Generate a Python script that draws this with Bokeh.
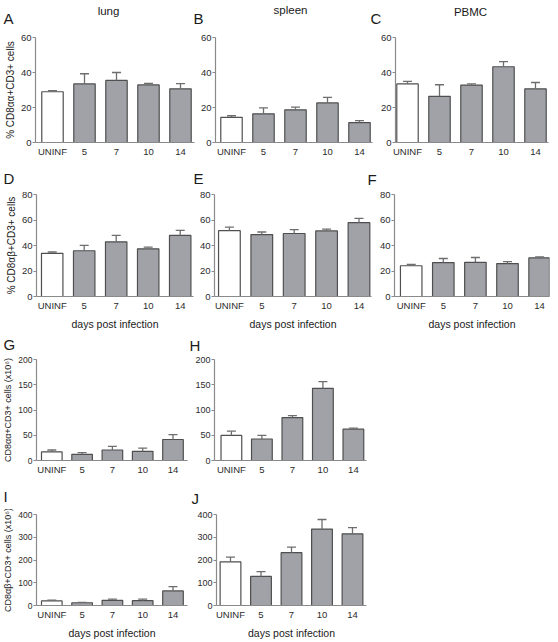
from bokeh.plotting import figure
from bokeh.models import Range1d, FixedTicker, ColumnDataSource, Whisker, TeeHead
from bokeh.core.properties import value
from bokeh.layouts import column, row
from bokeh.embed import file_html
from bokeh.resources import INLINE

# ---------------- data ----------------
categories = ["UNINF", "5", "7", "10", "14"]

lung_aa_pct = [29.0, 33.5, 35.5, 32.9, 30.7]
lung_aa_pct_sem = [0.7, 5.8, 4.5, 0.9, 2.9]
spleen_aa_pct = [14.4, 16.4, 18.7, 22.6, 11.4]
spleen_aa_pct_sem = [0.9, 3.4, 1.5, 3.2, 1.1]
pbmc_aa_pct = [33.5, 26.4, 32.8, 43.3, 30.7]
pbmc_aa_pct_sem = [1.4, 6.6, 0.7, 2.9, 3.6]

lung_ab_pct = [33.9, 35.9, 42.9, 37.4, 47.9]
lung_ab_pct_sem = [1.0, 4.2, 5.0, 1.3, 4.0]
spleen_ab_pct = [51.6, 48.6, 49.4, 51.4, 57.9]
spleen_ab_pct_sem = [2.8, 2.0, 3.0, 1.5, 3.4]
pbmc_ab_pct = [24.1, 26.6, 26.8, 25.8, 30.3]
pbmc_ab_pct_sem = [1.0, 3.2, 3.8, 1.5, 0.8]

lung_aa_count = [16.9, 12.3, 20.8, 18.2, 41.6]
lung_aa_count_sem = [3.9, 3.3, 7.1, 6.5, 9.7]
spleen_aa_count = [49.7, 42.6, 85.0, 143.0, 62.0]
spleen_aa_count_sem = [8.3, 7.1, 4.0, 13.0, 2.0]

lung_ab_count = [20.0, 12.0, 22.7, 21.3, 64.0]
lung_ab_count_sem = [4.0, 1.3, 5.3, 6.7, 18.7]
spleen_ab_count = [192.0, 128.0, 232.0, 336.0, 315.0]
spleen_ab_count_sem = [21.0, 21.0, 25.0, 42.0, 27.0]

pct_aa_ticks = [0, 20, 40, 60]
pct_ab_ticks = [0, 20, 40, 60, 80]
count_aa_ticks = [0, 50, 100, 150, 200]
count_ab_ticks = [0, 100, 200, 300, 400]

tissue_titles = ["lung", "spleen", "PBMC"]
panel_letters = ["A", "B", "C", "D", "E", "F", "G", "H", "I", "J"]
x_title = "days post infection"
y_title_pct_aa = "% CD8αα+CD3+ cells"
y_title_pct_ab = "% CD8αβ+CD3+ cells"
y_title_count_aa = "CD8αα+CD3+ cells (x10⁶)"
y_title_count_ab = "CD8αβ+CD3+ cells (x10⁶)"

# ---------------- style ----------------
FONT = "Liberation Sans"
AXIS_COL = "#8a8a8a"
TICK_TXT = "#2b2b2b"
TXT = "#1a1a1a"
BAR_FILL = "#a1a2a8"
BAR_LINE = "#4f4f4f"
ERR_COL = "#6e6e6e"
PAGE_W = 558


def make_panel(means, sems, ticks, fig_box, frame_box, c0, step, bar_w,
               tick_size="9.5px", xlabel=None, ylabel=None, ylabel_size="10px"):
    x0, y0, w, h = fig_box
    fx0, fy0, fx1, fy1 = frame_box
    xr = Range1d((fx0 - c0) / step, (fx1 - c0) / step)
    yr = Range1d(ticks[0], ticks[-1])
    p = figure(width=w, height=h, x_range=xr, y_range=yr, title=None,
               output_backend="svg", toolbar_location=None,
               min_border_left=fx0 - x0, min_border_right=x0 + w - fx1,
               min_border_top=fy0 - y0, min_border_bottom=y0 + h - fy1)
    p.outline_line_color = None
    p.grid.visible = False
    p.background_fill_color = "white"
    p.border_fill_color = "white"

    xs = list(range(len(categories)))
    fills = ["white"] + [BAR_FILL] * (len(categories) - 1)
    src = ColumnDataSource(dict(x=xs, mean=means,
                                upper=[m + s for m, s in zip(means, sems)],
                                fill=fills))
    p.add_layout(Whisker(source=src, base="x", lower="mean", upper="upper",
                         line_color=ERR_COL, line_width=1.3, lower_head=None,
                         upper_head=TeeHead(size=9, line_color=ERR_COL, line_width=1.3),
                         level="glyph"))
    p.vbar(x="x", top="mean", bottom=0, width=bar_w, source=src,
           fill_color="fill", line_color=BAR_LINE, line_width=1.2)

    ax = p.xaxis[0]
    ax.ticker = FixedTicker(ticks=xs)
    ax.major_label_overrides = {i: c for i, c in enumerate(categories)}
    ax.major_tick_out = 0
    ax.major_tick_in = 0
    ax.minor_tick_out = 0
    ax.minor_tick_in = 0
    ax.axis_line_color = AXIS_COL
    ax.axis_line_width = 1.2
    ax.major_label_standoff = 3
    ax.major_label_text_font = FONT
    ax.major_label_text_font_size = "9.5px"
    ax.major_label_text_color = TICK_TXT
    if xlabel:
        ax.axis_label = xlabel
        ax.axis_label_standoff = 4
        ax.axis_label_text_font = FONT
        ax.axis_label_text_font_size = "10.5px"
        ax.axis_label_text_font_style = "normal"
        ax.axis_label_text_color = TXT

    ay = p.yaxis[0]
    ay.ticker = FixedTicker(ticks=ticks)
    ay.major_tick_out = 3
    ay.major_tick_in = 0
    ay.minor_tick_out = 0
    ay.minor_tick_in = 0
    ay.axis_line_color = AXIS_COL
    ay.axis_line_width = 1.2
    ay.major_tick_line_color = AXIS_COL
    ay.major_tick_line_width = 1.2
    ay.major_label_standoff = 1
    ay.major_label_text_font = FONT
    ay.major_label_text_font_size = tick_size
    ay.major_label_text_color = TICK_TXT
    if ylabel:
        ay.axis_label = ylabel
        ay.axis_label_standoff = 2
        ay.axis_label_text_font = FONT
        ay.axis_label_text_font_size = ylabel_size
        ay.axis_label_text_font_style = "normal"
        ay.axis_label_text_color = TXT
    return p


def text_strip(y_top, y_bottom, letters, letter_xy, heads=(), head_xy=()):
    """A thin strip (page-pixel coordinates) that carries panel letters and column titles."""
    s = figure(width=PAGE_W, height=y_bottom - y_top,
               x_range=Range1d(0, PAGE_W), y_range=Range1d(y_bottom, y_top),
               x_axis_type=None, y_axis_type=None, title=None,
               output_backend="svg", toolbar_location=None,
               min_border_left=0, min_border_right=0, min_border_top=0, min_border_bottom=0)
    s.outline_line_color = None
    s.grid.visible = False
    s.background_fill_color = "white"
    s.border_fill_color = "white"
    s.text(x=[xy[0] for xy in letter_xy], y=[xy[1] for xy in letter_xy], text=list(letters),
           text_font=value(FONT), text_font_size=value("15px"), text_color=TXT,
           text_align="left", text_baseline="middle")
    if heads:
        s.text(x=[xy[0] for xy in head_xy], y=[xy[1] for xy in head_xy], text=list(heads),
               text_font=value(FONT), text_font_size=value("11.5px"), text_color=TXT,
               text_align="center", text_baseline="middle")
    return s


# Strip 1 + Row 1 (percent CD8aa)
strip1 = text_strip(0, 31, panel_letters[0:3], [(3, 18), (193, 18), (370, 18)],
                    tissue_titles, [(108, 10), (290, 9), (470, 11)])
pA = make_panel(lung_aa_pct, lung_aa_pct_sem, pct_aa_ticks,
                (0, 31, 196, 129), (35, 37, 194, 144), 52, 32, 0.67, ylabel=y_title_pct_aa)
pB = make_panel(spleen_aa_pct, spleen_aa_pct_sem, pct_aa_ticks,
                (196, 31, 178, 129), (215, 37, 372, 144), 231, 32, 0.67)
pC = make_panel(pbmc_aa_pct, pbmc_aa_pct_sem, pct_aa_ticks,
                (374, 31, 184, 129), (395, 37, 548, 142), 407, 32, 0.67)

# Strip 2 + Row 2 (percent CD8ab)
strip2 = text_strip(160, 190, panel_letters[3:6], [(3, 178), (193, 178), (367, 179)])
pD = make_panel(lung_ab_pct, lung_ab_pct_sem, pct_ab_ticks,
                (0, 190, 196, 142), (36, 194, 193, 301), 51.7, 32, 0.67,
                xlabel=x_title, ylabel=y_title_pct_ab)
pE = make_panel(spleen_ab_pct, spleen_ab_pct_sem, pct_ab_ticks,
                (196, 190, 178, 142), (213, 194, 371, 301), 228, 32.6, 0.67, xlabel=x_title)
pF = make_panel(pbmc_ab_pct, pbmc_ab_pct_sem, pct_ab_ticks,
                (374, 190, 184, 142), (394, 194, 549, 301), 410.7, 32.1, 0.67, xlabel=x_title)

# Strip 3 + Row 3 (counts CD8aa)
strip3 = text_strip(332, 355, panel_letters[6:8], [(3, 344), (189, 345)])
pG = make_panel(lung_aa_count, lung_aa_count_sem, count_aa_ticks,
                (0, 355, 192, 123), (34, 359, 187, 460), 49.5, 30.7, 0.68,
                tick_size="8.5px", ylabel=y_title_count_aa, ylabel_size="9px")
pH = make_panel(spleen_aa_count, spleen_aa_count_sem, count_aa_ticks,
                (192, 355, 182, 123), (213, 359, 366, 460), 230, 30.7, 0.68, tick_size="9px")

# Strip 4 + Row 4 (counts CD8ab)
strip4 = text_strip(478, 509, panel_letters[8:10], [(3, 496), (191, 498)])
pI = make_panel(lung_ab_count, lung_ab_count_sem, count_ab_ticks,
                (0, 509, 192, 132), (34, 513, 187, 613), 49.5, 30.7, 0.68,
                tick_size="8.5px", xlabel=x_title, ylabel=y_title_count_ab, ylabel_size="9px")
pJ = make_panel(spleen_ab_count, spleen_ab_count_sem, count_ab_ticks,
                (192, 509, 182, 132), (216, 514, 366, 614), 230, 30.5, 0.68,
                tick_size="9px", xlabel=x_title)

layout = column(strip1, row(pA, pB, pC),
                strip2, row(pD, pE, pF),
                strip3, row(pG, pH),
                strip4, row(pI, pJ))

with open("out.html", "w") as f:
    f.write(file_html(layout, INLINE))
